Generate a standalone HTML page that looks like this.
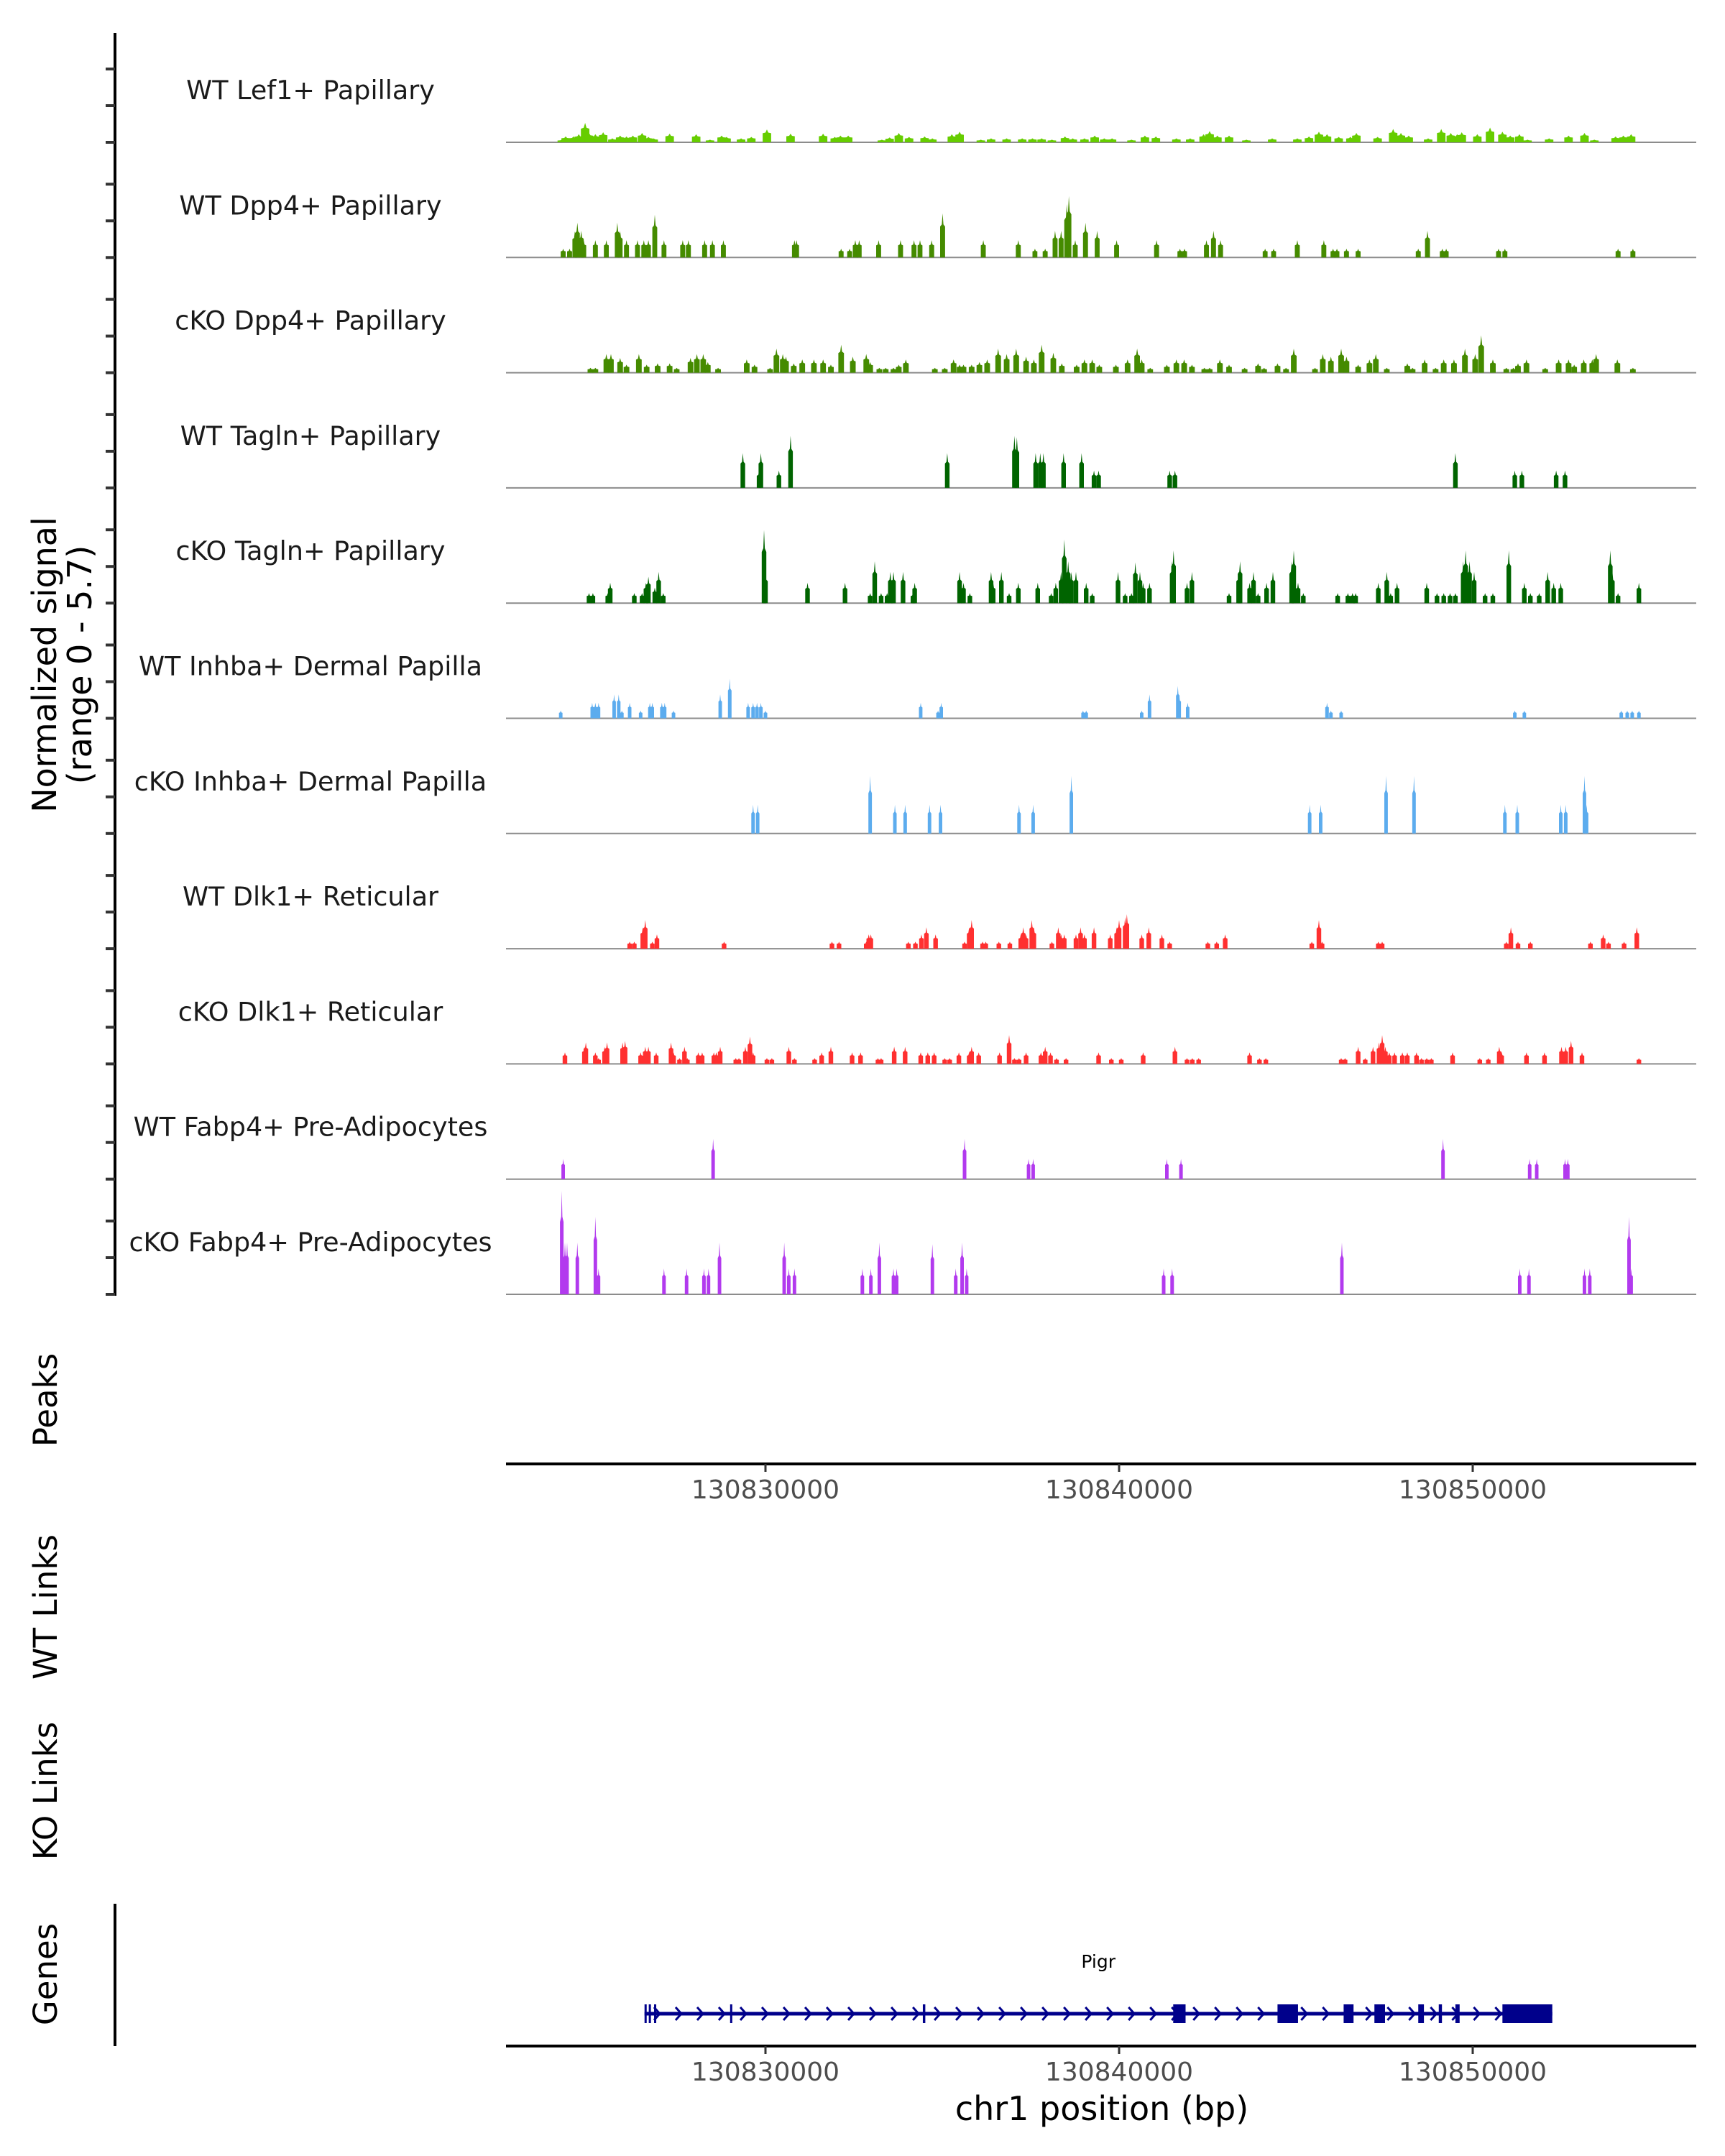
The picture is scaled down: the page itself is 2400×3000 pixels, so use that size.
<!DOCTYPE html>
<html><head><meta charset="utf-8">
<style>
html,body{margin:0;padding:0;background:#fff;}
svg{display:block;font-family:"DejaVu Sans","Liberation Sans",sans-serif;}
</style></head>
<body>
<svg id="chart" width="2400" height="3000" viewBox="0 0 2400 3000" xmlns="http://www.w3.org/2000/svg">
<rect x="0" y="0" width="2400" height="3000" fill="#fff"/>
<g id="tracks"></g>
<g id="yaxis"></g>
<text transform="translate(78,925) rotate(-90)" text-anchor="middle" font-size="46" fill="#000">Normalized signal</text>
<text transform="translate(127,925) rotate(-90)" text-anchor="middle" font-size="46" fill="#000">(range 0 - 5.7)</text>
<text transform="translate(79,1948) rotate(-90)" text-anchor="middle" font-size="45" fill="#000">Peaks</text>
<text transform="translate(79,2236) rotate(-90)" text-anchor="middle" font-size="45" fill="#000">WT Links</text>
<text transform="translate(79,2492) rotate(-90)" text-anchor="middle" font-size="45" fill="#000">KO Links</text>
<text transform="translate(79,2747) rotate(-90)" text-anchor="middle" font-size="45" fill="#000">Genes</text>
<line x1="160" y1="2649" x2="160" y2="2847" stroke="#000" stroke-width="4"/>
<g id="axes"></g>
<g id="gene"></g>
<text x="1533" y="2950" text-anchor="middle" font-size="46" fill="#000">chr1 position (bp)</text>
</svg>
<script>
// ---- data (positions in kb offset from 130820000, values in normalized signal) ----
const trackNames = ["WT Lef1+ Papillary","WT Dpp4+ Papillary","cKO Dpp4+ Papillary","WT Tagln+ Papillary","cKO Tagln+ Papillary","WT Inhba+ Dermal Papilla","cKO Inhba+ Dermal Papilla","WT Dlk1+ Reticular","cKO Dlk1+ Reticular","WT Fabp4+ Pre-Adipocytes","cKO Fabp4+ Pre-Adipocytes"];
const trackColors = ["#66CD00","#458B00","#458B00","#006400","#006400","#5CACEE","#5CACEE","#FF3030","#FF3030","#B23AEE","#B23AEE"];
const xTicks = [130830000,130840000,130850000];
const xTickLabels = ["130830000","130840000","130850000"];

const lef1WT_pos = [4.24,4.35,4.57,4.72,4.90,5.01,5.19,5.41,5.67,5.89,6.07,6.25,6.51,6.69,6.84,7.29,8.04,8.43,8.76,8.90,9.31,9.60,10.04,10.71,11.63,11.96,12.12,12.34,13.29,13.51,13.77,14.06,14.50,14.72,15.27,15.49,16.09,16.38,16.82,17.26,17.55,17.81,18.10,18.47,18.69,19.02,19.31,19.58,19.80,20.35,20.73,21.04,21.62,22.01,22.39,22.56,22.78,23.11,23.60,24.33,25.04,25.37,25.65,25.88,26.21,26.54,26.71,27.31,27.75,27.97,28.19,28.74,29.11,29.38,29.56,29.69,30.13,30.49,30.84,31.06,31.32,31.55,32.16,32.71,33.16,33.44,34.04,34.26,34.48];
const lef1WT_val = [0.14,0.31,0.31,0.43,1.04,0.5,0.43,0.54,0.21,0.36,0.31,0.36,0.5,0.29,0.21,0.46,0.43,0.14,0.36,0.29,0.21,0.29,0.69,0.46,0.46,0.29,0.36,0.36,0.14,0.26,0.5,0.29,0.31,0.21,0.43,0.57,0.14,0.21,0.21,0.21,0.21,0.21,0.14,0.31,0.21,0.21,0.36,0.21,0.21,0.14,0.36,0.31,0.21,0.21,0.43,0.6,0.36,0.36,0.14,0.21,0.21,0.31,0.57,0.43,0.29,0.29,0.5,0.29,0.71,0.5,0.36,0.21,0.71,0.5,0.43,0.54,0.43,0.79,0.57,0.36,0.43,0.14,0.21,0.36,0.5,0.14,0.31,0.36,0.43];

const dpp4WT_pos = [4.28,4.46,4.61,4.68,4.79,4.86,5.19,5.50,5.81,5.89,6.07,6.38,6.56,6.69,6.87,7.13,7.66,7.82,8.28,8.50,8.81,10.82,10.88,12.14,12.38,12.54,12.65,13.20,13.82,14.20,14.37,14.70,15.01,16.16,17.15,17.62,17.91,18.19,18.36,18.52,18.58,18.76,19.05,19.38,19.93,21.06,21.72,21.85,22.47,22.67,22.87,24.13,24.37,25.04,25.79,26.05,26.16,26.43,26.76,28.46,28.72,29.14,29.25,30.73,30.91,34.11,34.53];
const dpp4WT_val = [.47,.47,1.4,1.86,1.43,.93,.93,.93,1.86,1.43,.93,.93,.93,.93,2.29,.93,.93,.93,.93,.93,.93,.93,.93,.47,.47,.93,.93,.93,.93,.93,.93,.93,2.36,.93,.93,.47,.47,1.43,1.43,2.86,3.29,.93,1.86,1.43,.93,.93,.47,.47,.93,1.43,.93,.47,.47,.93,.93,.47,.47,.47,.47,.47,1.43,.47,.47,.47,.47,.47,.47];

const dpp4KO_pos = [5.05,5.19,5.50,5.63,5.89,6.07,6.42,6.64,6.95,7.29,7.49,7.88,8.06,8.24,8.37,8.66,9.47,9.69,10.13,10.31,10.49,10.58,10.80,11.04,11.37,11.63,11.85,12.14,12.47,12.85,12.96,13.22,13.40,13.62,13.77,13.97,14.79,15.07,15.32,15.49,15.60,15.83,16.05,16.27,16.58,16.82,17.09,17.37,17.59,17.81,18.14,18.38,18.80,19.02,19.24,19.44,19.91,20.24,20.51,20.64,20.88,21.35,21.62,21.84,22.06,22.41,22.56,22.85,23.11,23.55,23.93,24.10,24.48,24.72,24.94,25.54,25.76,25.99,26.28,26.43,26.76,27.08,27.26,27.57,28.15,28.30,28.64,28.95,29.18,29.47,29.78,30.07,30.24,30.57,30.95,31.15,31.28,31.52,32.05,32.43,32.71,32.87,33.14,33.38,33.49,34.09,34.53];
const dpp4KO_val = [.26,.26,1,1,.79,.43,1,.43,.5,.5,.26,.79,1,1,.57,.26,.71,.43,.26,1.29,1,.86,.5,.71,.71,.71,.43,1.5,.86,1,.57,.26,.26,.26,.43,.71,.26,.26,.71,.43,.43,.43,.57,.71,1.29,1,1.29,.86,.71,1.5,1.07,.5,.43,.71,.71,.43,.43,.71,1.29,.71,.26,.43,.71,.71,.43,.26,.26,.71,.43,.26,.5,.26,.5,.26,1.29,.26,1,.86,1.29,.86,.43,.71,1,.26,.5,.26,.71,.26,.71,.71,1.29,1,2,.71,.26,.26,.5,.71,.26,.71,.71,.43,.71,.71,1,.71,.26];

const taglnWT_pos = [9.36,9.82,9.87,10.38,10.71,15.14,17.04,17.11,17.64,17.77,17.86,18.43,18.94,19.29,19.42,21.43,21.58,29.51,31.19,31.39,32.36,32.61];
const taglnWT_val = [1.86,.93,1.86,.93,2.79,1.86,2.79,2.71,1.86,1.86,1.86,1.86,1.86,.93,.93,.93,.93,1.86,.93,.93,.93,.93];

const taglnKO_pos = [5.01,5.12,5.54,5.61,6.29,6.51,6.62,6.69,6.87,6.98,7.11,9.96,10.00,11.19,12.25,12.96,13.09,13.27,13.44,13.53,13.62,13.89,14.17,14.22,15.49,15.60,15.78,16.38,16.44,16.67,16.89,17.15,17.70,18.08,18.21,18.36,18.45,18.56,18.65,18.78,19.07,19.24,19.97,20.17,20.35,20.46,20.59,20.68,20.86,21.50,21.54,21.92,22.06,23.11,23.38,23.42,23.69,23.80,23.93,24.17,24.35,24.88,24.94,25.06,25.21,26.18,26.47,26.60,26.69,27.33,27.57,27.68,27.86,28.70,28.99,29.18,29.36,29.51,29.73,29.80,29.91,30.04,30.35,30.57,31.02,31.46,31.63,31.88,32.12,32.29,32.49,33.89,33.95,34.11,34.70];
const taglnKO_val = [.54,.54,.54,1.09,.54,.54,1.09,1.41,.83,1.67,.54,3.91,1.67,1.09,1.09,.54,2.24,.54,.54,1.67,1.67,1.67,.54,1.09,1.67,1.09,.54,1.67,1.09,1.67,.54,1.09,1.09,.54,1.09,1.67,3.4,2.24,1.67,1.67,1.09,.54,1.67,.54,.54,2.18,1.67,1.09,1.09,2.24,2.82,1.09,1.67,.54,1.67,2.24,1.09,1.67,.54,1.09,1.67,2.24,2.82,1.09,.54,.54,.54,.54,.54,1.09,1.67,.54,1.09,1.09,.54,.54,.54,.54,2.24,2.82,2.24,1.67,.54,.54,2.82,1.09,.54,.54,1.67,1.09,1.09,2.82,1.67,.54,1.09];

const inhbaWT_pos = [4.21,5.10,5.19,5.28,5.72,5.85,5.94,6.16,6.47,6.73,6.80,7.07,7.15,7.40,8.72,8.99,9.51,9.65,9.76,9.87,10.00,14.39,14.88,14.97,18.98,19.07,20.64,20.86,21.66,21.70,21.94,25.88,25.99,26.28,31.19,31.46,34.20,34.37,34.51,34.70];
const inhbaWT_val = [.42,.83,.83,.83,1.28,1.28,.42,.83,.42,.83,.83,.83,.83,.42,1.28,2.12,.83,.83,.83,.83,.42,.83,.42,.83,.42,.42,.42,1.28,1.73,1.28,.83,.83,.42,.42,.42,.42,.42,.42,.42,.42];

const inhbaKO_pos = [9.65,9.78,12.96,13.66,13.95,14.64,14.95,17.17,17.57,18.65,25.39,25.70,27.55,28.34,30.91,31.26,32.49,32.63,33.16,33.22];
const inhbaKO_val = [1.54,1.54,3.08,1.54,1.54,1.54,1.54,1.54,1.54,3.08,1.54,1.54,3.08,3.08,1.54,1.54,1.54,1.54,3.08,1.54];

const dlk1WT_pos = [6.16,6.29,6.53,6.60,6.80,6.93,8.83,11.88,12.08,12.85,12.92,12.98,14.04,14.24,14.41,14.55,14.81,15.63,15.76,15.83,16.14,16.23,16.60,16.91,17.22,17.29,17.37,17.53,17.59,18.10,18.28,18.36,18.45,18.78,18.91,19.02,19.29,19.75,19.93,20.00,20.17,20.22,20.64,20.84,21.21,21.43,22.51,22.76,23.00,25.45,25.65,25.74,27.33,27.44,30.95,31.08,31.28,31.63,33.33,33.69,33.84,34.28,34.64];
const dlk1WT_val = [.38,.38,1.15,1.54,.38,.77,.38,.38,.38,.38,.77,.77,.38,.38,.77,1.15,.77,.38,1.15,1.54,.38,.38,.38,.38,.77,1.15,.77,1.54,1.15,.38,1.15,.77,.77,.77,1.15,.77,1.15,.77,1.15,1.54,1.69,1.85,.77,1.15,.77,.38,.38,.38,.77,.38,1.54,.38,.38,.38,.38,1.15,.38,.38,.38,.77,.38,.38,1.15];

const dlk1KO_pos = [4.33,4.88,4.92,5.19,5.28,5.45,5.52,5.96,6.03,6.47,6.60,6.69,6.91,7.33,7.40,7.57,7.71,7.79,8.10,8.21,8.54,8.61,8.72,9.16,9.25,9.43,9.56,9.65,10.04,10.18,10.66,10.82,11.39,11.59,11.85,12.45,12.69,13.18,13.27,13.64,13.95,14.39,14.59,14.77,15.07,15.21,15.47,15.76,15.83,16.03,16.62,16.89,17.04,17.17,17.37,17.79,17.91,18.06,18.23,18.50,19.42,19.78,20.06,20.68,21.58,21.92,22.07,22.25,23.69,23.97,24.15,26.28,26.39,26.76,26.96,27.18,27.35,27.44,27.53,27.64,27.79,28.01,28.15,28.41,28.55,28.70,28.83,29.43,30.20,30.44,30.75,30.82,31.52,32.03,32.51,32.63,32.78,33.09,34.70];
const dlk1KO_val = [.62,.92,1.15,.62,.31,.92,1.15,1.15,1.23,.62,.92,.92,.62,1.15,.62,.31,.92,.31,.62,.62,.62,.62,.92,.31,.31,.92,1.46,.62,.31,.31,.92,.31,.31,.62,.92,.62,.62,.31,.31,.92,.92,.62,.62,.62,.31,.31,.62,.62,.92,.62,.62,1.54,.31,.31,.62,.62,.92,.62,.31,.31,.62,.31,.31,.62,.92,.31,.31,.31,.62,.31,.31,.31,.31,.92,.31,.92,1.15,1.54,.92,.62,.62,.62,.62,.62,.31,.31,.31,.62,.31,.31,.92,.62,.62,.62,.92,.92,1.23,.62,.31];

const fabp4WT_pos = [4.28,8.52,15.63,17.44,17.57,21.35,21.75,29.16,31.61,31.81,32.61,32.69];
const fabp4WT_val = [1.08,2.15,2.15,1.08,1.08,1.08,1.08,2.15,1.08,1.08,1.08,1.08];

const fabp4KO_pos = [4.24,4.33,4.39,4.68,5.19,5.28,7.13,7.77,8.26,8.39,8.70,10.53,10.66,10.82,12.74,12.98,13.22,13.62,13.71,14.72,15.38,15.56,15.69,21.26,21.50,26.30,31.33,31.59,33.16,33.31,34.42,34.48];
const fabp4KO_val = [5.54,2.77,2.77,2.77,4.15,1.38,1.38,1.38,1.38,1.38,2.77,2.77,1.38,1.38,1.38,1.38,2.77,1.38,1.38,2.69,1.38,2.77,1.38,1.38,1.38,2.77,1.38,1.38,1.38,1.38,4.15,1.38];

const trackPos = [lef1WT_pos,dpp4WT_pos,dpp4KO_pos,taglnWT_pos,taglnKO_pos,inhbaWT_pos,inhbaKO_pos,dlk1WT_pos,dlk1KO_pos,fabp4WT_pos,fabp4KO_pos];
const trackVal = [lef1WT_val,dpp4WT_val,dpp4KO_val,taglnWT_val,taglnKO_val,inhbaWT_val,inhbaKO_val,dlk1WT_val,dlk1KO_val,fabp4WT_val,fabp4KO_val];

const geneName = "Pigr";
const geneStart = 6.58, geneEnd = 32.25;
const exonStarts = [6.58,6.70,6.85,9.00,14.45,21.53,24.48,26.35,27.22,28.46,29.04,29.51,30.84];
const exonEnds   = [6.62,6.74,6.89,9.06,14.52,21.88,25.06,26.63,27.52,28.62,29.13,29.63,32.25];

// ---- scales ----
const NS = "http://www.w3.org/2000/svg";
const ORIGIN = 130820000;
const PLOT_L = 704, PLOT_R = 2360;
function xScale(kb){ return 1065 + (kb - 10) * 49.2; }
function xBp(bp){ return xScale((bp - ORIGIN)/1000); }
const PX_PER_UNIT = 26;
const BASE0 = 198, TRACK_STEP = 160.3;
function mk(tag, attrs, parent){ const e=document.createElementNS(NS,tag); for(const k in attrs) e.setAttribute(k,attrs[k]); parent.appendChild(e); return e; }

const gTracks = document.getElementById('tracks');
const gY = document.getElementById('yaxis');
const widths = [0.24,0.14,0.16,0.13,0.13,0.1,0.1,0.13,0.13,0.1,0.1];

const yl = mk('line',{x1:160,y1:46,x2:160,y2:1803,stroke:'#000','stroke-width':4},gY);



trackNames.forEach((name,i)=>{
  const base = BASE0 + i*TRACK_STEP;
  const g = mk('g',{},gTracks);
  
  
  const lab = mk('text',{x:432,y:base-60,'text-anchor':'middle','font-size':36.5,fill:'#1a1a1a'},g);
  
  
  lab.textContent = name;
  const bl = mk('line',{x1:PLOT_L,y1:base,x2:PLOT_R,y2:base,stroke:'#8c8c8c','stroke-width':2},g);
  
  
  const w = widths[i]*49.2;
  trackPos[i].forEach((p,j)=>{
    const x = xScale(p), h = trackVal[i][j]*PX_PER_UNIT;
    const pts = [[x-w/2,base],[x-w/2,base-0.7*h],[x-w/6,base-0.75*h],[x,base-h],[x+w/6,base-0.75*h],[x+w/2,base-0.7*h],[x+w/2,base]];
    const pk = mk('polygon',{points:pts.map(a=>a[0].toFixed(1)+','+a[1].toFixed(1)).join(' '),fill:trackColors[i]},g);
    
    
  });
  [0,51,102].forEach(off=>{
    const t = mk('line',{x1:147,y1:base-off,x2:160,y2:base-off,stroke:'#333','stroke-width':4},gY);
    
    
  });
});

// ---- x axes ----
const gA = document.getElementById('axes');
[[2037,2072],[2847,2882]].forEach((a,k)=>{
  const ln = mk('line',{x1:PLOT_L,y1:a[0],x2:PLOT_R,y2:a[0],stroke:'#000','stroke-width':4},gA);
  
  
  xTicks.forEach((t,j)=>{
    const x = xBp(t);
    const tk = mk('line',{x1:x,y1:a[0],x2:x,y2:a[0]+11,stroke:'#333','stroke-width':3},gA);
    
    
    const tl = mk('text',{x:x,y:a[1]+13,'text-anchor':'middle','font-size':36,fill:'#4d4d4d'},gA);
    
    
    tl.textContent = xTickLabels[j];
  });
});

// ---- gene ----
const gG = document.getElementById('gene');
const GY = 2802, NAVY = '#00008B';
const gl = mk('text',{x:(xScale(geneStart)+xScale(geneEnd))/2,y:2738,'text-anchor':'middle','font-size':25,fill:'#000'},gG);


gl.textContent = geneName;
const il = mk('line',{x1:xScale(geneStart),y1:GY,x2:xScale(geneEnd),y2:GY,stroke:NAVY,'stroke-width':5},gG);


for(let kb=geneStart+0.35; kb<geneEnd-0.2; kb+=0.61){
  const x = xScale(kb);
  const ch = mk('polyline',{points:`${x-4},${GY-9} ${x+4},${GY} ${x-4},${GY+9}`,fill:'none',stroke:NAVY,'stroke-width':3},gG);
  
  
}
exonStarts.forEach((s,i)=>{
  const x1 = xScale(s), x2 = xScale(exonEnds[i]);
  const ex = mk('rect',{x:x1,y:GY-13,width:Math.max(3,x2-x1),height:26,fill:NAVY},gG);
  
  
});
</script>
</body></html>
